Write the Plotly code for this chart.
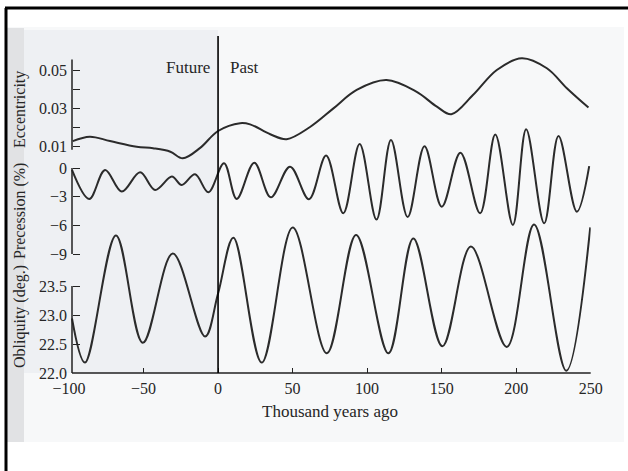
import plotly.graph_objects as go

# ---------------- data ----------------
ecc_x = [-97.5, -86, -72.5, -54.6, -43.6, -32, -23.7, -12, 0, 14.8, 21.5, 35, 46,
         61.7, 77.4, 93, 113, 133, 146.8, 156.5, 171, 187, 203.8, 220.6, 234, 248.5]
ecc_y = [0.0126, 0.0149, 0.0126, 0.0096, 0.0088, 0.0070, 0.0035, 0.0090, 0.0179, 0.0220,
         0.0214, 0.0162, 0.0136, 0.0200, 0.0298, 0.0395, 0.0447, 0.0386, 0.0307, 0.0267,
         0.0368, 0.0500, 0.0562, 0.0509, 0.0404, 0.0302]

prec_x = [-98, -86.4, -75.8, -64.6, -52.3, -42.3, -31, -24.4, -15.4, -6.5, 4, 12.5,
          24.3, 35.4, 48.3, 61, 72.5, 84, 95, 106.3, 116, 127.2, 138.5, 150.1, 162.6,
          175.8, 186, 197.8, 206.7, 218.8, 228.4, 240.7, 249]
prec_y = [-0.2, -3.24, -0.21, -2.47, -0.45, -2.3, -0.9, -1.78, -0.66, -2.54, 0.5, -3.24,
          0.55, -3.07, 0.14, -3.27, 1.3, -4.74, 2.5, -5.4, 2.93, -5.13, 2.28, -4.05, 1.6,
          -4.74, 3.5, -5.96, 4.05, -5.79, 3.35, -4.57, 0.2]

obl_x = [-98, -89.3, -68.5, -50.5, -30.4, -8.7, 0, 10.3, 29.3, 50.1, 73, 92.6, 114.3,
         131, 150.5, 169.6, 193.7, 212, 233.6, 249.7]
obl_y = [22.94, 22.18, 24.37, 22.52, 24.06, 22.63, 23.37, 24.33, 22.18, 24.51, 22.34,
         24.38, 22.34, 24.32, 22.46, 24.18, 22.45, 24.56, 22.04, 24.51]

x_ticks = [-100, -50, 0, 50, 100, 150, 200, 250]
x_ticktext = ["\u2212100", "\u221250", "0", "50", "100", "150", "200", "250"]
ecc_ticks = [0.01, 0.02, 0.03, 0.04, 0.05]
ecc_ticktext = ["0.01", "", "0.03", "", "0.05"]
prec_ticks = [0, -3, -6, -9]
prec_ticktext = ["0", "\u22123", "\u22126", "\u22129"]
obl_ticks = [22.0, 22.5, 23.0, 23.5]
obl_ticktext = ["22.0", "22.5", "23.0", "23.5"]

# ---------------- geometry helpers ----------------
W, H = 628, 471
def px(p):
    return p / W
def py(p):
    return 1 - p / H

PLOT_TOP, PLOT_BOT = 30, 373
X_LEFT, X_RIGHT = 69, 590.7
AXIS_X = 72

def yrange(v_a, px_a, v_b, px_b):
    slope = (v_b - v_a) / (px_b - px_a)
    bot = v_a + slope * (PLOT_BOT - px_a)
    top = v_a + slope * (PLOT_TOP - px_a)
    return [bot, top]

obl_range = yrange(22.0, 373, 23.5, 286)
prec_range = yrange(0, 168, -9, 254)
ecc_range = yrange(0.01, 146, 0.05, 70)

FONT = "Liberation Serif"
LINE = "#2b2b2b"
TXT = "#262626"

fig = go.Figure()
fig.add_trace(go.Scatter(x=ecc_x, y=ecc_y, mode="lines", yaxis="y3",
                         line=dict(color=LINE, width=2, shape="spline", smoothing=1.0),
                         showlegend=False, hoverinfo="skip"))
fig.add_trace(go.Scatter(x=prec_x, y=prec_y, mode="lines", yaxis="y2",
                         line=dict(color=LINE, width=2, shape="spline", smoothing=1.0),
                         showlegend=False, hoverinfo="skip"))
fig.add_trace(go.Scatter(x=obl_x, y=obl_y, mode="lines", yaxis="y",
                         line=dict(color=LINE, width=2, shape="spline", smoothing=1.0),
                         showlegend=False, hoverinfo="skip"))

ydom = [py(PLOT_BOT), py(PLOT_TOP)]
common_y = dict(domain=ydom, anchor="free", position=px(AXIS_X), showgrid=False,
                zeroline=False, showline=False, ticks="inside", ticklen=7,
                tickwidth=1.3, tickcolor="#222", ticklabelstandoff=5, automargin=False,
                tickfont=dict(family=FONT, size=16, color=TXT))

fig.update_layout(
    width=W, height=H,
    margin=dict(l=0, r=0, t=0, b=0, pad=0, autoexpand=False),
    paper_bgcolor="white",
    plot_bgcolor="rgba(0,0,0,0)",
    xaxis=dict(domain=[px(X_LEFT), px(X_RIGHT)], range=[-100, 250], automargin=False,
               tickmode="array", tickvals=x_ticks, ticktext=x_ticktext,
               ticks="inside", ticklen=5, tickwidth=1.3, tickcolor="#222",
               ticklabelstandoff=4,
               showgrid=False, zeroline=False, showline=False,
               tickfont=dict(family=FONT, size=16, color=TXT)),
    yaxis=dict(range=obl_range, tickmode="array", tickvals=obl_ticks,
               ticktext=obl_ticktext, **common_y),
    yaxis2=dict(range=prec_range, tickmode="array", tickvals=prec_ticks,
                ticktext=prec_ticktext, overlaying="y", **common_y),
    yaxis3=dict(range=ecc_range, tickmode="array", tickvals=ecc_ticks,
                ticktext=ecc_ticktext, overlaying="y", **common_y),
)

shapes = []
# scanned page tint, gutter and shaded "future" area
shapes.append(dict(type="rect", xref="paper", yref="paper", x0=px(6), x1=px(624),
                   y0=py(442), y1=py(27), fillcolor="#f7f8f9", line_width=0, layer="below"))
shapes.append(dict(type="rect", xref="paper", yref="paper", x0=px(24), x1=px(218),
                   y0=py(373), y1=py(30), fillcolor="#eef0f3", line_width=0, layer="below"))
shapes.append(dict(type="rect", xref="paper", yref="paper", x0=px(6), x1=px(24),
                   y0=py(442), y1=py(28), fillcolor="#e1e2e4", line_width=0, layer="below"))
# axis lines
shapes.append(dict(type="line", xref="paper", yref="paper", x0=px(AXIS_X), x1=px(X_RIGHT),
                   y0=py(PLOT_BOT), y1=py(PLOT_BOT), line=dict(color="#222", width=1.5)))
shapes.append(dict(type="line", xref="paper", yref="y", x0=px(AXIS_X), x1=px(AXIS_X),
                   y0=22.0, y1=23.5, line=dict(color="#222", width=1.5)))
shapes.append(dict(type="line", xref="paper", yref="y2", x0=px(AXIS_X), x1=px(AXIS_X),
                   y0=-9, y1=0, line=dict(color="#222", width=1.5)))
shapes.append(dict(type="line", xref="paper", yref="y3", x0=px(AXIS_X), x1=px(AXIS_X),
                   y0=0.008, y1=0.0555, line=dict(color="#222", width=1.5)))
# present-day divider
shapes.append(dict(type="line", xref="x", yref="paper", x0=0, x1=0,
                   y0=py(PLOT_BOT), y1=py(36), line=dict(color="black", width=1.6)))
# black frame of the scan
shapes.append(dict(type="line", xref="paper", yref="paper", x0=px(5), x1=1,
                   y0=py(8), y1=py(8), line=dict(color="black", width=3)))
shapes.append(dict(type="line", xref="paper", yref="paper", x0=px(6), x1=px(6),
                   y0=py(8), y1=0, line=dict(color="black", width=3)))
fig.update_layout(shapes=shapes)

ann = []
def text(t, x, y, xanchor="center", angle=0, size=16):
    ann.append(dict(text=t, x=px(x), y=py(y), xref="paper", yref="paper",
                    xanchor=xanchor, yanchor="middle", showarrow=False, textangle=angle,
                    font=dict(family=FONT, size=size, color=TXT)))

text("Future", 212, 68, xanchor="right", size=17)
text("Past", 228, 68, xanchor="left", size=17)
text("Thousand years ago", 330, 411, size=17)
text("Eccentricity", 20, 110, angle=-90, size=16)
text("Precession (%)", 20, 211, angle=-90, size=16)
text("Obliquity (deg.)", 20, 317, angle=-90, size=16)
fig.update_layout(annotations=ann)

fig.write_html("out.html")
